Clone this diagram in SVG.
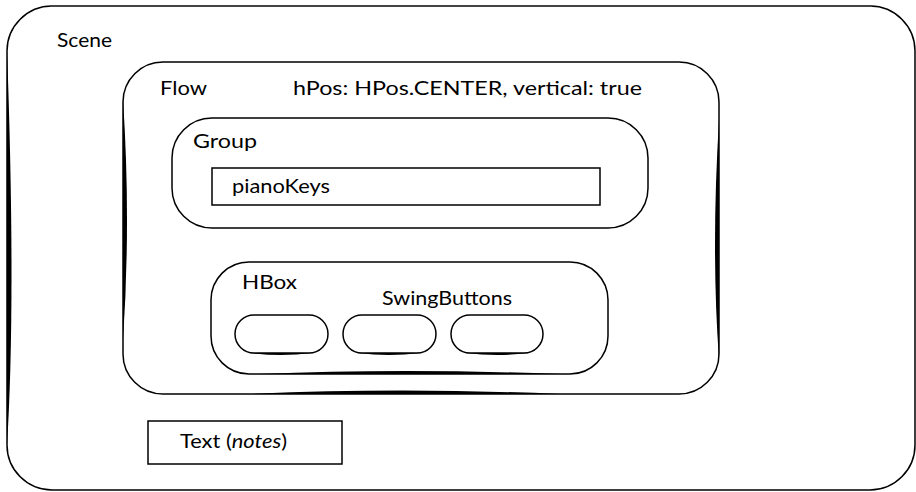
<svg xmlns="http://www.w3.org/2000/svg" width="916" height="492" viewBox="0 0 916 492">
<style>
.box{fill:#fff;stroke:#000;stroke-width:1.5}
.thick{fill:#000;stroke:none}
.lbl{font-family:Lato,"Open Sans","Liberation Sans",sans-serif;font-size:19px;fill:#000}
</style>
<rect width="916" height="492" fill="#fff"/>
<g id="scene">
  <rect class="box" x="7" y="6" width="908" height="484" rx="45" ry="45"/>
  <path class="thick" d="M7,50 Q16,300 7,445 Z"/>
  <line x1="50" y1="6" x2="872" y2="6" stroke="#444" stroke-width="2"/>
  <text class="lbl" x="57" y="47" textLength="55" lengthAdjust="spacingAndGlyphs">Scene</text>
</g>
<g id="flow">
  <rect class="box" x="123" y="62" width="596" height="332" rx="40" ry="40"/>
  <path class="thick" d="M123,100 Q131,220 123,340 Z"/>
  <path class="thick" d="M719,120 Q711,250 719,360 Z"/>
  <path class="thick" d="M250,394 Q400,387 560,394 Z"/>
  <text class="lbl" x="160" y="95" textLength="47" lengthAdjust="spacingAndGlyphs">Flow</text>
  <text class="lbl" x="293" y="95" textLength="349" lengthAdjust="spacingAndGlyphs">hPos: HPos.CENTER, vertical: true</text>
</g>
<g id="group">
  <rect class="box" x="172" y="118" width="476" height="110" rx="40" ry="40"/>
  <text class="lbl" x="193" y="148" textLength="64" lengthAdjust="spacingAndGlyphs">Group</text>
</g>
<g id="pianoKeys">
  <rect class="box" x="212" y="168" width="388" height="37"/>
  <text class="lbl" x="232" y="193" textLength="98" lengthAdjust="spacingAndGlyphs">pianoKeys</text>
</g>
<g id="hbox">
  <rect class="box" x="211" y="262" width="397" height="112" rx="38" ry="38"/>
  <path class="thick" d="M260,374 Q400,368 560,374 Z"/>
  <text class="lbl" x="242" y="289" textLength="55" lengthAdjust="spacingAndGlyphs">HBox</text>
  <text class="lbl" x="382" y="305" textLength="130" lengthAdjust="spacingAndGlyphs">SwingButtons</text>
</g>
<g id="button1">
  <rect class="box" x="235" y="315" width="93" height="38" rx="19" ry="19"/>
  <path class="thick" d="M250,353 Q281,357 312,353 Z"/>
</g>
<g id="button2">
  <rect class="box" x="343" y="315" width="93" height="38" rx="19" ry="19"/>
  <path class="thick" d="M358,353 Q389,357 420,353 Z"/>
</g>
<g id="button3">
  <rect class="box" x="451" y="315" width="92" height="38" rx="19" ry="19"/>
  <path class="thick" d="M466,353 Q497,357 528,353 Z"/>
</g>
<g id="text-notes">
  <rect class="box" x="148" y="421" width="194" height="43"/>
  <text class="lbl" x="180" y="448" textLength="107" lengthAdjust="spacingAndGlyphs">Text (<tspan font-style="italic">notes</tspan>)</text>
</g>
<g id="connectors"/>
</svg>
